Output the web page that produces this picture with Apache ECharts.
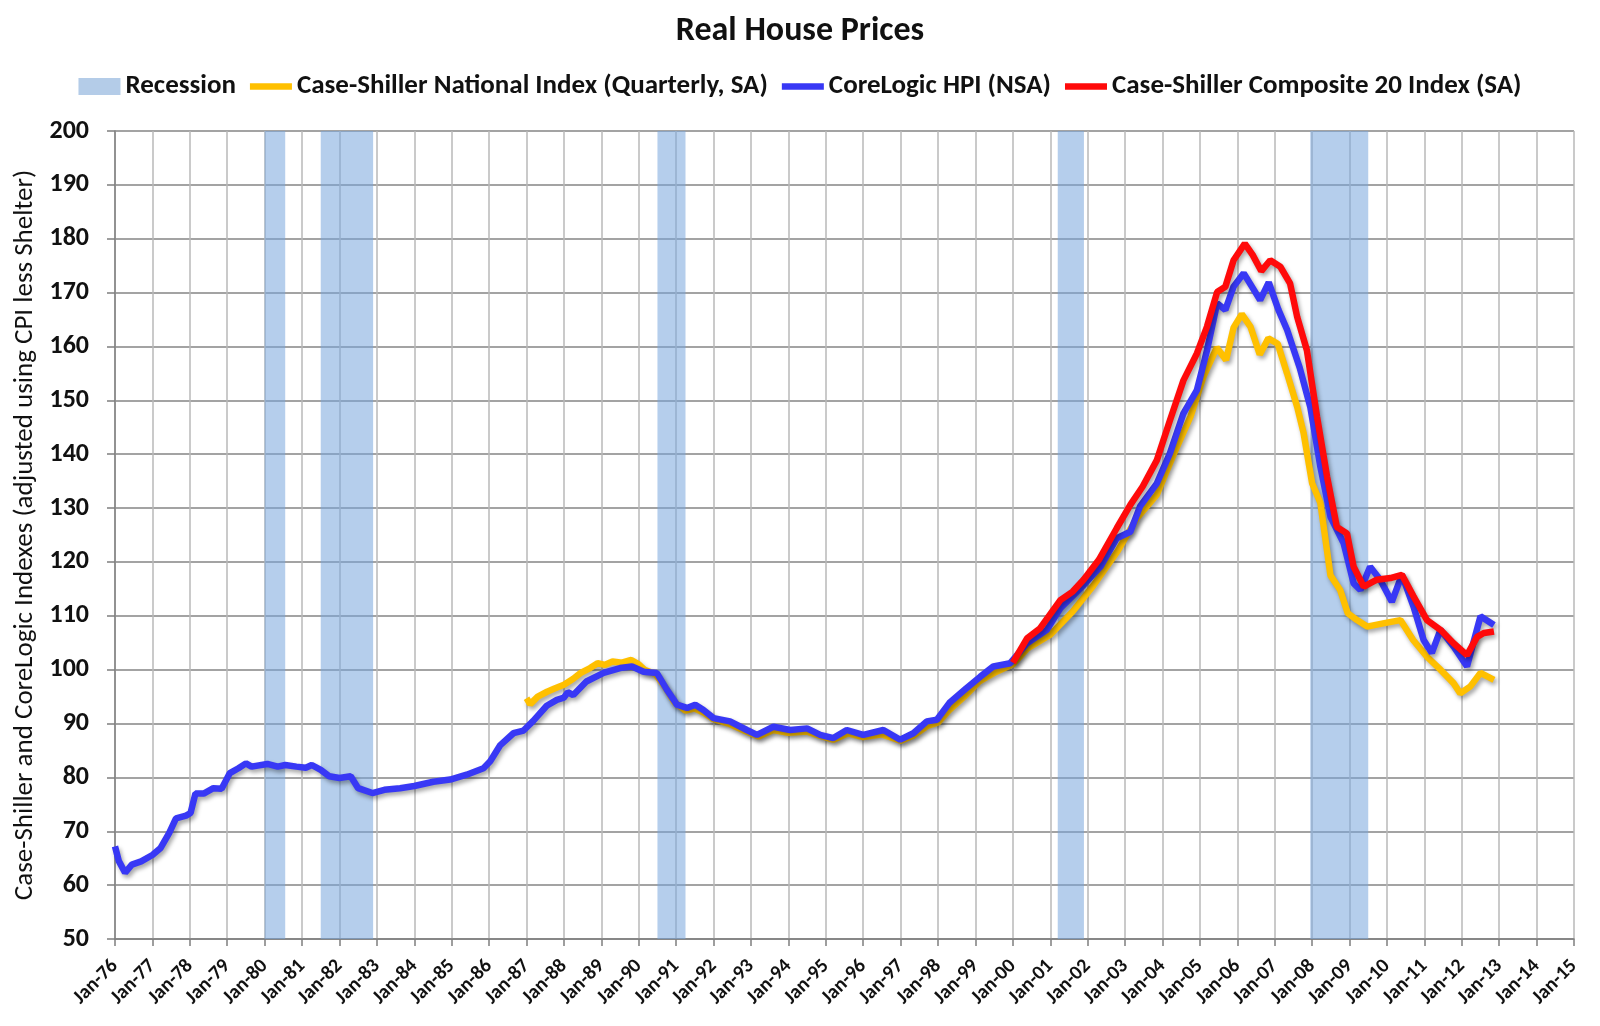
<!DOCTYPE html>
<html>
<head>
<meta charset="utf-8">
<title>Real House Prices</title>
<script src="https://cdn.jsdelivr.net/npm/echarts@6/dist/echarts.min.js"></script>
<style>
  html, body { margin: 0; padding: 0; background: #fff; }
  #Chart_RealHousePricesDiv { width: 1600px; height: 1026px; }
</style>
</head>
<body>
<div id="Chart_RealHousePricesDiv"></div>
<script>
// recessions, as [start, end] in decimal years
var recessions = [
  [1980.0, 1980.55],
  [1981.5, 1982.9],
  [1990.5, 1991.25],
  [2001.2, 2001.9],
  [2007.95, 2009.5]
];

// Case-Shiller National Index (Quarterly, SA) - [decimal year, real index]
var csNational = [
  [1987.0, 94.7], [1987.1, 93.6], [1987.3, 95.0], [1987.55, 95.9], [1987.75, 96.5],
  [1988.0, 97.2], [1988.25, 98.3], [1988.45, 99.4], [1988.7, 100.3], [1988.9, 101.2],
  [1989.1, 100.9], [1989.3, 101.5], [1989.55, 101.3], [1989.8, 101.8], [1990.0, 101.0],
  [1990.15, 100.0], [1990.45, 99.2], [1990.7, 96.8], [1990.95, 94.0], [1991.25, 92.4],
  [1991.5, 92.8], [1991.75, 92.0], [1992.0, 90.8], [1992.4, 90.0], [1992.85, 88.6],
  [1993.2, 87.6], [1993.6, 88.8], [1994.0, 88.3], [1994.5, 88.5], [1994.9, 87.6],
  [1995.2, 87.0], [1995.6, 88.2], [1996.0, 87.5], [1996.5, 88.0], [1997.0, 86.8],
  [1997.35, 87.8], [1997.7, 89.5], [1998.0, 90.2], [1998.3, 92.5], [1998.7, 95.0],
  [1999.1, 97.8], [1999.5, 99.4], [2000.0, 101.0], [2000.4, 104.0], [2001.0, 106.5],
  [2001.6, 110.8], [2002.15, 115.6], [2002.8, 122.0], [2003.3, 128.0], [2003.85, 132.5],
  [2004.3, 140.0], [2004.75, 147.0], [2005.1, 154.5], [2005.45, 159.8], [2005.7, 157.5],
  [2005.9, 163.5], [2006.12, 166.0], [2006.35, 163.7], [2006.6, 158.5], [2006.83, 161.5],
  [2007.08, 160.5], [2007.33, 155.0], [2007.6, 148.8], [2007.77, 144.0], [2008.0, 134.6],
  [2008.22, 131.0], [2008.49, 117.5], [2008.75, 114.8], [2008.95, 110.5], [2009.2, 109.2],
  [2009.47, 108.0], [2009.9, 108.6], [2010.36, 109.2], [2010.7, 105.5], [2011.07, 102.4],
  [2011.43, 100.0], [2011.78, 97.5], [2011.96, 95.6], [2012.23, 96.9], [2012.5, 99.4],
  [2012.86, 98.1]
];

// CoreLogic HPI (NSA)
var coreLogic = [
  [1976.0, 67.2], [1976.1, 64.5], [1976.27, 62.3], [1976.45, 63.8], [1976.7, 64.4],
  [1977.0, 65.6], [1977.22, 66.9], [1977.45, 69.7], [1977.63, 72.4], [1977.9, 72.9],
  [1978.02, 73.4], [1978.15, 77.0], [1978.37, 77.0], [1978.63, 78.0], [1978.85, 77.9],
  [1979.07, 80.8], [1979.3, 81.7], [1979.5, 82.6], [1979.65, 82.0], [1980.07, 82.5],
  [1980.35, 82.0], [1980.55, 82.3], [1980.85, 82.0], [1981.1, 81.8], [1981.26, 82.3],
  [1981.5, 81.4], [1981.73, 80.2], [1982.0, 79.9], [1982.3, 80.2], [1982.5, 78.0],
  [1982.88, 77.1], [1983.2, 77.7], [1983.62, 78.0], [1984.0, 78.4], [1984.51, 79.2],
  [1984.96, 79.6], [1985.4, 80.5], [1985.85, 81.7], [1986.03, 83.0], [1986.3, 86.0],
  [1986.65, 88.2], [1986.92, 88.7], [1987.18, 90.5], [1987.54, 93.3], [1987.81, 94.4],
  [1988.0, 94.8], [1988.1, 95.8], [1988.25, 95.3], [1988.6, 97.8], [1989.06, 99.4],
  [1989.5, 100.3], [1989.82, 100.6], [1990.13, 99.6], [1990.48, 99.4], [1990.75, 96.3],
  [1991.02, 93.5], [1991.29, 92.9], [1991.51, 93.5], [1991.73, 92.5], [1992.0, 91.0],
  [1992.44, 90.4], [1992.89, 88.8], [1993.16, 87.9], [1993.6, 89.4], [1994.05, 88.8],
  [1994.5, 89.1], [1994.85, 87.9], [1995.2, 87.3], [1995.56, 88.8], [1996.0, 87.9],
  [1996.54, 88.8], [1996.99, 87.0], [1997.34, 88.2], [1997.7, 90.4], [1997.97, 90.7],
  [1998.3, 93.8], [1998.75, 96.5], [1999.13, 98.7], [1999.48, 100.6], [1999.93, 101.2],
  [2000.38, 104.9], [2000.91, 107.4], [2001.27, 111.4], [2001.89, 115.7], [2002.34, 119.1],
  [2002.78, 124.4], [2003.14, 125.6], [2003.4, 130.3], [2003.85, 134.6], [2004.2, 140.2],
  [2004.56, 147.6], [2004.92, 151.9], [2005.19, 159.3], [2005.46, 168.0], [2005.68, 166.8],
  [2005.9, 171.1], [2006.17, 173.6], [2006.39, 171.1], [2006.61, 168.6], [2006.84, 171.9],
  [2007.1, 166.8], [2007.33, 163.1], [2007.67, 156.0], [2007.95, 148.8], [2008.22, 137.7],
  [2008.49, 128.4], [2008.84, 123.5], [2009.11, 116.0], [2009.29, 114.8], [2009.55, 119.1],
  [2009.82, 116.7], [2010.13, 112.6], [2010.4, 117.6], [2010.71, 111.7], [2010.98, 105.5],
  [2011.2, 103.1], [2011.43, 107.4], [2011.78, 104.3], [2012.14, 100.6], [2012.5, 109.9],
  [2012.86, 108.3]
];

// Case-Shiller Composite 20 Index (SA)
var csComposite20 = [
  [2000.0, 101.3], [2000.38, 105.8], [2000.73, 107.7], [2001.27, 112.9], [2001.6, 114.5],
  [2001.89, 116.7], [2002.3, 120.4], [2002.78, 126.3], [2003.14, 130.6], [2003.47, 134.0],
  [2003.85, 138.9], [2004.2, 146.3], [2004.56, 153.7], [2004.92, 158.7], [2005.19, 163.7],
  [2005.46, 170.1], [2005.68, 171.1], [2005.9, 176.0], [2006.2, 179.1], [2006.41, 177.0],
  [2006.64, 174.0], [2006.88, 176.0], [2007.15, 174.8], [2007.41, 171.7], [2007.6, 165.5],
  [2007.86, 159.3], [2008.13, 147.0], [2008.4, 135.8], [2008.66, 126.5], [2008.93, 125.3],
  [2009.11, 119.1], [2009.38, 115.4], [2009.73, 116.7], [2010.09, 117.0], [2010.4, 117.6],
  [2010.71, 113.6], [2011.07, 109.2], [2011.43, 107.4], [2011.78, 104.9], [2012.14, 102.7],
  [2012.41, 106.1], [2012.59, 106.8], [2012.86, 107.1]
];

var yearMin = 1976, yearMax = 2015;
var valueMin = 50, valueMax = 200;

var fontFamily = 'Carlito, Lato, "Open Sans", sans-serif';
var lineIcon = 'path://M0 0H40V6H0Z';

function lineSeries(name, data, color, z) {
  return {
    name: name,
    type: 'line',
    data: data,
    symbol: 'none',
    smooth: false,
    z: z,
    color: color,
    lineStyle: {
      color: color,
      width: 6.5,
      shadowColor: 'rgba(0,0,0,0.35)',
      shadowBlur: 4,
      shadowOffsetX: 2,
      shadowOffsetY: 3
    }
  };
}

var recessionColor = 'rgba(120,165,220,0.55)';

var option = {
  animation: false,
  backgroundColor: '#fff',
  textStyle: { fontFamily: fontFamily },
  title: {
    text: 'Real House Prices',
    left: 'center',
    top: 9,
    textStyle: { fontSize: 34, fontWeight: 'bold', color: '#111', fontFamily: fontFamily }
  },
  legend: {
    top: 68,
    left: 'center',
    itemWidth: 42,
    itemHeight: 17,
    itemGap: 14,
    textStyle: { fontSize: 27, fontWeight: 'bold', color: '#111', fontFamily: fontFamily },
    data: [
      { name: 'Recession', icon: 'rect', itemStyle: { color: '#B4CCE8' } },
      { name: 'Case-Shiller National Index (Quarterly, SA)', icon: lineIcon },
      { name: 'CoreLogic HPI (NSA)', icon: lineIcon },
      { name: 'Case-Shiller Composite 20 Index (SA)', icon: lineIcon }
    ]
  },
  grid: { left: 115, right: 26, top: 131, bottom: 87, containLabel: false },
  xAxis: {
    type: 'value',
    min: yearMin,
    max: yearMax,
    interval: 1,
    axisLine: { show: true, lineStyle: { color: '#7f7f7f', width: 1.5 } },
    axisTick: { show: true, length: 7, lineStyle: { color: '#7f7f7f', width: 1.5 } },
    splitLine: { show: true, lineStyle: { color: '#b9b9b9', width: 1.5 } },
    axisLabel: {
      rotate: 45,
      margin: 24,
      fontSize: 20,
      fontWeight: 'bold',
      color: '#111',
      formatter: function (v) { return 'Jan-' + String(v).slice(2); }
    }
  },
  yAxis: {
    type: 'value',
    min: valueMin,
    max: valueMax,
    interval: 10,
    name: 'Case-Shiller and CoreLogic Indexes (adjusted using CPI less Shelter)',
    nameLocation: 'middle',
    nameGap: 73,
    nameTextStyle: { fontSize: 27, color: '#111', fontFamily: fontFamily },
    axisLine: { show: true, lineStyle: { color: '#7f7f7f', width: 1.5 } },
    axisTick: { show: true, length: 8, lineStyle: { color: '#7f7f7f', width: 1.5 } },
    splitLine: { show: true, lineStyle: { color: '#858585', width: 1.5 } },
    axisLabel: { fontSize: 26, fontWeight: 'bold', color: '#111', margin: 26 }
  },
  series: [
    {
      name: 'Recession',
      type: 'line',
      data: [],
      symbol: 'none',
      color: '#B4CCE8',
      z: 1,
      markArea: {
        silent: true,
        itemStyle: { color: recessionColor },
        data: recessions.map(function (r) { return [{ xAxis: r[0] }, { xAxis: r[1] }]; })
      }
    },
    lineSeries('Case-Shiller National Index (Quarterly, SA)', csNational, '#FFC000', 3),
    lineSeries('CoreLogic HPI (NSA)', coreLogic, '#3838F5', 4),
    lineSeries('Case-Shiller Composite 20 Index (SA)', csComposite20, '#FF0A0A', 5)
  ]
};

var Chart_RealHousePrices = echarts.init(document.getElementById('Chart_RealHousePricesDiv'), null, {});
Chart_RealHousePrices.setOption(option);

window.addEventListener('resize', function () {
  Chart_RealHousePrices.resize();
});
</script>
</body>
</html>
